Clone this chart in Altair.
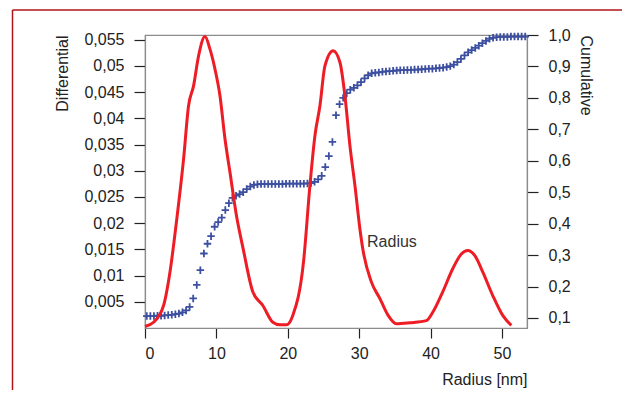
import altair as alt
import pandas as pd

# ---- data ----
radius_diff = [0, 1.2, 2.6, 3.5, 4.4, 5.4, 6.1, 6.8, 7.5, 8.4, 9.1, 9.8, 10.5, 11.2,
               11.9, 12.8, 13.75, 15.1, 16.5, 17.9, 18.9, 19.8, 20.7, 22.2, 23.1,
               23.8, 24.5, 25.2, 26.35, 27.3, 28.0, 28.7, 29.4, 30.1, 30.5, 31.7,
               32.9, 34.05, 35.2, 37.1, 39.4, 40.3, 41.7, 43.1, 44.3, 45.2, 46.2,
               47.3, 48.7, 50.1, 51.3]
differential = [0.0003, 0.0011, 0.0043, 0.0107, 0.0202, 0.0322, 0.0424, 0.0462,
                0.0519, 0.0556, 0.0532, 0.0494, 0.0443, 0.0361, 0.0297, 0.0215,
                0.0151, 0.0069, 0.0043, 0.0011, 0.0006, 0.0006, 0.0024, 0.0126,
                0.0272, 0.0367, 0.0424, 0.0500, 0.0529, 0.0507, 0.0443, 0.0348,
                0.0272, 0.0189, 0.0151, 0.0088, 0.0056, 0.0024, 0.0008, 0.0010,
                0.0014, 0.0030, 0.0069, 0.0113, 0.0141, 0.0148, 0.0138, 0.0107,
                0.0062, 0.0024, 0.0005]

radius_cum = [0.25, 0.75, 1.25, 1.75, 2.25, 2.75, 3.25, 3.75, 4.25, 4.75, 5.25, 5.75,
              6.25, 6.75, 7.25, 7.75, 8.25, 8.75, 9.25, 9.75, 10.25, 10.75, 11.25,
              11.75, 12.25, 12.75, 13.25, 13.75, 14.25, 14.75, 15.25, 15.75, 16.25,
              16.75, 17.25, 17.75, 18.25, 18.75, 19.25, 19.75, 20.25, 20.75, 21.25,
              21.75, 22.25, 22.75, 23.25, 23.75, 24.25, 24.75, 25.25, 25.75, 26.25,
              26.75, 27.25, 27.75, 28.25, 28.75, 29.25, 29.75, 30.25, 30.75, 31.25,
              31.75, 32.25, 32.75, 33.25, 33.75, 34.25, 34.75, 35.25, 35.75, 36.25,
              36.75, 37.25, 37.75, 38.25, 38.75, 39.25, 39.75, 40.25, 40.75, 41.25,
              41.75, 42.25, 42.75, 43.25, 43.75, 44.25, 44.75, 45.25, 45.75, 46.25,
              46.75, 47.25, 47.75, 48.25, 48.75, 49.25, 49.75, 50.25, 50.75, 51.25,
              51.75, 52.25, 52.75, 53.25]
cumulative = [0.106, 0.106, 0.106, 0.107, 0.107, 0.108, 0.109, 0.110, 0.112, 0.114,
              0.118, 0.124, 0.135, 0.162, 0.205, 0.252, 0.305, 0.336, 0.360, 0.390,
              0.405, 0.419, 0.443, 0.465, 0.482, 0.489, 0.494, 0.500, 0.510, 0.518,
              0.523, 0.525, 0.526, 0.526, 0.526, 0.526, 0.526, 0.526, 0.526, 0.527,
              0.527, 0.527, 0.527, 0.527, 0.527, 0.528, 0.529, 0.533, 0.541, 0.552,
              0.580, 0.615, 0.660, 0.745, 0.780, 0.800, 0.815, 0.826, 0.832, 0.840,
              0.850, 0.862, 0.872, 0.878, 0.880, 0.881, 0.883, 0.884, 0.885, 0.886,
              0.887, 0.888, 0.888, 0.889, 0.889, 0.890, 0.890, 0.891, 0.892, 0.893,
              0.893, 0.894, 0.895, 0.896, 0.898, 0.901, 0.906, 0.914, 0.924, 0.935,
              0.945, 0.952, 0.959, 0.966, 0.974, 0.981, 0.988, 0.991, 0.993, 0.994,
              0.994, 0.994, 0.995, 0.995, 0.995, 0.995, 0.995]

x_ticks = [0, 10, 20, 30, 40, 50]
diff_ticks = [0.005, 0.01, 0.015, 0.02, 0.025, 0.03, 0.035, 0.04, 0.045, 0.05, 0.055]
cum_ticks = [0.1, 0.2, 0.3, 0.4, 0.5, 0.6, 0.7, 0.8, 0.9, 1.0]
curve_label = ["Radius"]

FONT = "Liberation Sans"
TXT = "#222222"
FRAME = "#8c8c8c"
RED = "#ee1c25"
BLUE = "#3c4fa0"
PW, PH = 382, 293

df_diff = pd.DataFrame({"r": radius_diff, "d": differential})
df_cum = pd.DataFrame({"r": radius_cum, "c": cumulative})
df_lab = pd.DataFrame({"r": [31.1], "d": [0.0164], "t": curve_label})

x_scale = alt.Scale(domain=[0, 53.5], nice=False, zero=False)
d_scale = alt.Scale(domain=[0, 0.0559], nice=False, zero=False)
c_scale = alt.Scale(domain=[0.068, 1.0], nice=False, zero=False)

common = dict(labelFont=FONT, labelFontSize=16, labelColor=TXT, titleFont=FONT,
              titleFontSize=16, titleFontWeight="normal", titleColor=TXT,
              domainColor=FRAME, domainWidth=1.2, tickColor="#222222", tickWidth=1.2,
              grid=False)

x_axis = alt.Axis(orient="bottom", values=x_ticks, format="d", tickSize=10, labelPadding=7,
                  title="Radius [nm]", titleX=PW, titleY=56, titleAlign="right",
                  titleBaseline="alphabetic", **common)
d_axis = alt.Axis(orient="left", values=diff_ticks,
                  labelExpr="replace(format(datum.value, '.3~f'), '.', ',')",
                  tickSize=11, labelPadding=10, title="Differential", titleAngle=270,
                  titleX=-83, titleY=0, titleAlign="right", titleBaseline="middle",
                  **common)
c_axis = alt.Axis(orient="right", values=cum_ticks,
                  labelExpr="replace(format(datum.value, '.1f'), '.', ',')",
                  tickSize=11, labelPadding=10, title="Cumulative", titleAngle=90,
                  titleX=58, titleY=0, titleAlign="left", titleBaseline="middle",
                  **common)

cross = "M-1,0L1,0M0,-1L0,1"

points = alt.Chart(df_cum).mark_point(shape=cross, size=56, filled=False,
                                      strokeWidth=1.8, color=BLUE, opacity=1).encode(
    x=alt.X("r:Q", scale=x_scale, axis=x_axis),
    y=alt.Y("c:Q", scale=c_scale, axis=c_axis),
)

line = alt.Chart(df_diff).mark_line(color=RED, strokeWidth=3, interpolate="monotone").encode(
    x=alt.X("r:Q", scale=x_scale, axis=x_axis),
    y=alt.Y("d:Q", scale=d_scale, axis=d_axis),
)

label = alt.Chart(df_lab).mark_text(align="left", baseline="middle", font=FONT,
                                    fontSize=16, color="#333333").encode(
    x=alt.X("r:Q", scale=x_scale, axis=x_axis),
    y=alt.Y("d:Q", scale=d_scale, axis=d_axis),
    text="t:N",
)

diff_layer = alt.layer(line, label)

border_v = alt.Chart(df_lab).mark_rule(color="#b3141c", strokeWidth=1.5).encode(
    x=alt.value(-132.5), y=alt.value(-25), y2=alt.value(400))
border_h = alt.Chart(df_lab).mark_rule(color="#b3141c", strokeWidth=1.5).encode(
    x=alt.value(-132.5), x2=alt.value(500), y=alt.value(-25))

chart = alt.layer(points, diff_layer, border_v, border_h).resolve_scale(
    y="independent"
).properties(
    width=PW, height=PH,
    autosize=alt.AutoSizeParams(type="none"),
    padding={"left": 137, "top": 27, "right": 95, "bottom": 62},
).configure_view(stroke=FRAME, strokeWidth=1.2)

chart.save("out.html", embed_options={"renderer": "svg", "actions": False})
